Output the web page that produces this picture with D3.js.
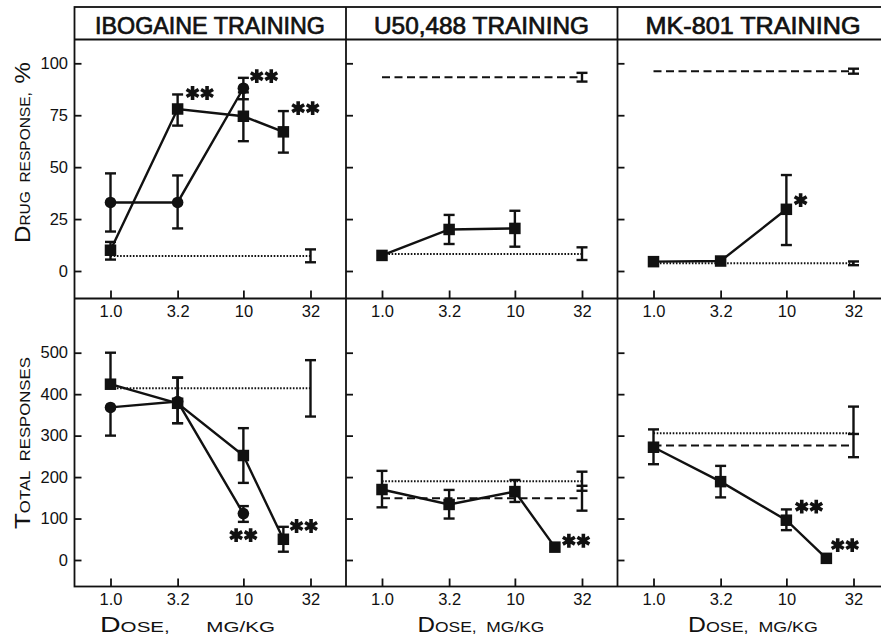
<!DOCTYPE html>
<html>
<head>
<meta charset="utf-8">
<script src="https://cdn.jsdelivr.net/npm/d3@7"></script>
<style>
  body { margin: 0; background: #fff; }
  svg { display: block; }
  text { font-family: "Liberation Sans", Arial, Helvetica, sans-serif; fill: #111; }
</style>
</head>
<body>
<div id="chart"></div>
<script>

// ---- Data ----

var doseTicks      = [1.0, 3.2, 10, 32];
var doseTickLabels = ["1.0", "3.2", "10", "32"];
var drugTicks      = [0, 25, 50, 75, 100];
var totalTicks     = [0, 100, 200, 300, 400, 500];
var panelTitles    = ["IBOGAINE TRAINING", "U50,488 TRAINING", "MK-801 TRAINING"];

// points: [dose, mean, low end of error bar, high end of error bar]
var ibgDrugCircles   = [[1.0, 33, 19, 47], [3.2, 33, 20.5, 46], [10, 88, 82.7, 93]];
var ibgDrugSquares   = [[1.0, 10, 5.5, 14], [3.2, 78, 70, 85], [10, 74.5, 62.5, 86], [20, 67, 57, 77]];
var ibgDrugDotted    = [7.2, 4.2, 10.4];          // [mean, low, high] drawn at 32
var ibgDrugStars     = [[4.7, 85.7, 2], [14.3, 93.8, 2], [29.3, 78.4, 2]]; // [dose, value, count]

var ibgTotalCircles  = [[1.0, 368, 300, 368], [3.2, 382, 330, 440], [10, 112, 92, 130]];
var ibgTotalSquares  = [[1.0, 424, 424, 500], [3.2, 378, 330, 440], [10, 252, 186, 318], [20, 50, 20, 80]];
var ibgTotalDotted   = [414, 346, 482];
var ibgTotalStars    = [[10, 60, 2], [28.5, 82, 2]];

var u50DrugSquares   = [[1.0, 7.5, 7.5, 7.5], [3.2, 20, 13, 27], [10, 20.5, 11.7, 29]];
var u50DrugDashed    = [93.3, 91.2, 95.4];
var u50DrugDotted    = [8.2, 5.3, 11.4];

var u50TotalSquares  = [[1.0, 170, 127, 215], [3.2, 134, 100, 169], [10, 165, 140, 193], [20, 31, 31, 31]];
var u50TotalDotted   = [190, 167, 213];
var u50TotalDashed   = [149, 119, 179];
var u50TotalStars    = [[28.9, 46.5, 2]];

var mkDrugSquares    = [[1.0, 4.5, 4.5, 4.5], [3.2, 4.8, 4.8, 4.8], [10, 29.7, 12.5, 46.2]];
var mkDrugDashed     = [96.2, 95, 97.4];
var mkDrugDotted     = [3.7, 2.8, 4.6];
var mkDrugStars      = [[12.8, 34.1, 1]];

var mkTotalSquares   = [[1.0, 272, 231, 315], [3.2, 189, 151, 227], [10, 96, 72, 122], [20, 4, 4, 4]];
var mkTotalDotted    = [306, 306, 370];
var mkTotalDashed    = [276, 248, 304];
var mkTotalStars     = [[14.8, 128.6, 2], [27.6, 36, 2]];

var panels = [
	{ title: panelTitles[0],
	  drug:  { circles: ibgDrugCircles, squares: ibgDrugSquares, dotted: ibgDrugDotted, dashed: null, stars: ibgDrugStars },
	  total: { circles: ibgTotalCircles, squares: ibgTotalSquares, dotted: ibgTotalDotted, dashed: null, stars: ibgTotalStars } },
	{ title: panelTitles[1],
	  drug:  { circles: null, squares: u50DrugSquares, dotted: u50DrugDotted, dashed: u50DrugDashed, stars: [] },
	  total: { circles: null, squares: u50TotalSquares, dotted: u50TotalDotted, dashed: u50TotalDashed, stars: u50TotalStars } },
	{ title: panelTitles[2],
	  drug:  { circles: null, squares: mkDrugSquares, dotted: mkDrugDotted, dashed: mkDrugDashed, stars: mkDrugStars },
	  total: { circles: null, squares: mkTotalSquares, dotted: mkTotalDotted, dashed: mkTotalDashed, stars: mkTotalStars } }
];

// ---- Layout constants ----

var WIDTH        = 881;
var HEIGHT       = 636;
var FRAME_LEFT   = 74.5;
var PANEL_W      = 271.5;
var TITLE_TOP    = 7;
var TITLE_BOTTOM = 39.5;
var MID_Y        = 298.5;   // border between the two rows
var BOTTOM_Y     = 586.5;
var LINE_W       = 2.4;
var CAP_W        = 11;
var SQ           = 11.5;
var TITLE_LEN    = [230, 215, 215];
var DOSE_LABEL_X = [187.5, 481, 753];
var DOSE_GLYPH_W = [150, 127, 130];
var DOSE_LABEL_W = [175, 127, 130];

var svg = d3.select("#chart").append("svg")
	.attr("width", WIDTH)
	.attr("height", HEIGHT);

/*---------------------------
| frame
-----------------*/

var frame = svg.append("g")
	.attr("fill", "none")
	.attr("stroke", "#111")
	.attr("stroke-width", 1.8);

frame.append("rect")
	.attr("x", FRAME_LEFT).attr("y", TITLE_TOP)
	.attr("width", PANEL_W * 3).attr("height", BOTTOM_Y - TITLE_TOP);
[TITLE_BOTTOM, MID_Y].forEach(function(y) {
	frame.append("line")
		.attr("x1", FRAME_LEFT).attr("x2", FRAME_LEFT + PANEL_W * 3)
		.attr("y1", y).attr("y2", y);
});
[1, 2].forEach(function(i) {
	frame.append("line")
		.attr("x1", FRAME_LEFT + PANEL_W * i).attr("x2", FRAME_LEFT + PANEL_W * i)
		.attr("y1", TITLE_TOP).attr("y2", BOTTOM_Y);
});

/*---------------------------
| drawing helpers
-----------------*/

var drawErrorBar = function(g, x, y, p) {
	// p = [dose, mean, low, high]
	var cx = x(p[0]);
	if (p[2] >= p[3]) return;
	g.append("line")
		.attr("x1", cx).attr("x2", cx)
		.attr("y1", y(p[2])).attr("y2", y(p[3]));
	if (p[2] < p[1]) {
		g.append("line")
			.attr("x1", cx - CAP_W / 2).attr("x2", cx + CAP_W / 2)
			.attr("y1", y(p[2])).attr("y2", y(p[2]));
	}
	if (p[3] > p[1]) {
		g.append("line")
			.attr("x1", cx - CAP_W / 2).attr("x2", cx + CAP_W / 2)
			.attr("y1", y(p[3])).attr("y2", y(p[3]));
	}
};

var drawControl = function(g, x, y, ctrl, dash) {
	if (!ctrl) return;
	g.append("line")
		.attr("x1", x(1)).attr("x2", x(32))
		.attr("y1", y(ctrl[0])).attr("y2", y(ctrl[0]))
		.attr("stroke-width", 2)
		.attr("stroke-dasharray", dash);
	drawErrorBar(g, x, y, [32, ctrl[0], ctrl[1], ctrl[2]]);
};

var drawSeries = function(g, x, y, pts, shape) {
	if (!pts) return;
	pts.forEach(function(p) { drawErrorBar(g, x, y, p); });
	g.append("path")
		.datum(pts)
		.attr("fill", "none")
		.attr("d", d3.line().x(function(d) { return x(d[0]); }).y(function(d) { return y(d[1]); }));
	pts.forEach(function(p) {
		if (shape === "circle") {
			g.append("circle")
				.attr("cx", x(p[0])).attr("cy", y(p[1])).attr("r", 5.8)
				.attr("fill", "#111").attr("stroke", "none");
		} else {
			g.append("rect")
				.attr("x", x(p[0]) - SQ / 2).attr("y", y(p[1]) - SQ / 2)
				.attr("width", SQ).attr("height", SQ)
				.attr("fill", "#111").attr("stroke", "none");
		}
	});
};

var drawStars = function(g, x, y, stars) {
	var star = d3.symbol().type(d3.symbolAsterisk).size(135);
	stars.forEach(function(s) {
		for (var i = 0; i < s[2]; i++) {
			var cx = x(s[0]) + (i - (s[2] - 1) / 2) * 14.5;
			g.append("path")
				.attr("d", star())
				.attr("transform", "translate(" + cx + "," + y(s[1]) + ")")
				.attr("stroke-width", 3.6)
				.attr("fill", "none");
		}
	});
};

var styleAxis = function(axisG) {
	axisG.select(".domain").remove();
	axisG.selectAll(".tick line").attr("stroke", "#111").attr("stroke-width", 1.8);
	axisG.selectAll(".tick text")
		.attr("fill", "#111")
		.style("font-size", "16.5px")
		.style("font-family", '"Liberation Sans", Arial, sans-serif');
};

/*---------------------------
| panels
-----------------*/

panels.forEach(function(panel, i) {
	var left = FRAME_LEFT + PANEL_W * i;
	var x = d3.scaleLog().domain([1, 32]).range([left + 36, left + 236]);
	var yTop = d3.scaleLinear().domain([0, 100]).range([271, 63.3]);
	var yBot = d3.scaleLinear().domain([0, 500]).range([560, 352.7]);

	// title
	svg.append("text")
		.attr("x", left + 135.5)
		.attr("y", 34.3)
		.attr("text-anchor", "middle")
		.attr("textLength", TITLE_LEN[i])
		.attr("lengthAdjust", "spacingAndGlyphs")
		.style("font-size", "24px")
		.style("stroke", "#111")
		.style("stroke-width", 0.7)
		.text(panel.title);

	// y axes, ticks pointing inward
	var yAxTop = svg.append("g")
		.attr("transform", "translate(" + left + ",0)")
		.call(d3.axisLeft(yTop).tickValues(drugTicks).tickSizeInner(-7).tickSizeOuter(0)
			.tickPadding(6.5).tickFormat(i === 0 ? d3.format("d") : ""));
	styleAxis(yAxTop);
	var yAxBot = svg.append("g")
		.attr("transform", "translate(" + left + ",0)")
		.call(d3.axisLeft(yBot).tickValues(totalTicks).tickSizeInner(-7).tickSizeOuter(0)
			.tickPadding(6.5).tickFormat(i === 0 ? d3.format("d") : ""));
	styleAxis(yAxBot);

	// x axes, ticks pointing up
	[MID_Y, BOTTOM_Y].forEach(function(yy) {
		var xAx = svg.append("g")
			.attr("transform", "translate(0," + yy + ")")
			.call(d3.axisBottom(x).tickValues(doseTicks).tickSizeInner(-8).tickSizeOuter(0)
				.tickPadding(7).tickFormat(function(d, k) { return doseTickLabels[k]; }));
		styleAxis(xAx);
	});

	// data
	[[panel.drug, yTop], [panel.total, yBot]].forEach(function(pair) {
		var d = pair[0], y = pair[1];
		var g = svg.append("g")
			.attr("stroke", "#111")
			.attr("stroke-width", LINE_W)
			.attr("fill", "none");
		drawControl(g, x, y, d.dotted, "1.6,1.6");
		drawControl(g, x, y, d.dashed, "8,4.5");
		drawSeries(g, x, y, d.circles, "circle");
		drawSeries(g, x, y, d.squares, "square");
		drawStars(g, x, y, d.stars);
	});
});

/*---------------------------
| small-caps axis titles
-----------------*/

var smallCapsLabel = function(cx, cy, rotate, parts, glyphLen, totalLen) {
	// Glyphs are squeezed to glyphLen; any extra room up to
	// totalLen goes into the gap before the last part.
	var g = svg.append("g")
		.attr("transform", "translate(" + cx + "," + cy + ")" + (rotate ? " rotate(-90)" : ""));
	var t = g.append("text");
	parts.forEach(function(p) {
		t.append("tspan")
			.style("font-size", p[1] + "px")
			.text(p[0]);
	});
	var w = t.node().getComputedTextLength();
	var s = glyphLen / w;
	var gap = (totalLen - glyphLen) / s;
	if (gap > 0) t.select("tspan:last-child").attr("dx", gap);
	t.attr("transform", "scale(" + s + ",1) translate(" + (-(w + gap) / 2) + ",0)");
};

smallCapsLabel(29.5, 152.5, true,
	[["D", 22.5], ["RUG\u00a0 RESPONSE,\u00a0 ", 14.5], ["%", 22.5]], 181, 181);
smallCapsLabel(29.5, 443, true,
	[["T", 22.5], ["OTAL\u00a0 RESPONSES", 14.5]], 172, 172);
DOSE_LABEL_X.forEach(function(lx, k) {
	smallCapsLabel(lx, 632, false,
		[["D", 21.5], ["OSE,\u00a0 ", 15.5], ["MG/KG", 15.5]], DOSE_GLYPH_W[k], DOSE_LABEL_W[k]);
});

</script>
</body>
</html>
